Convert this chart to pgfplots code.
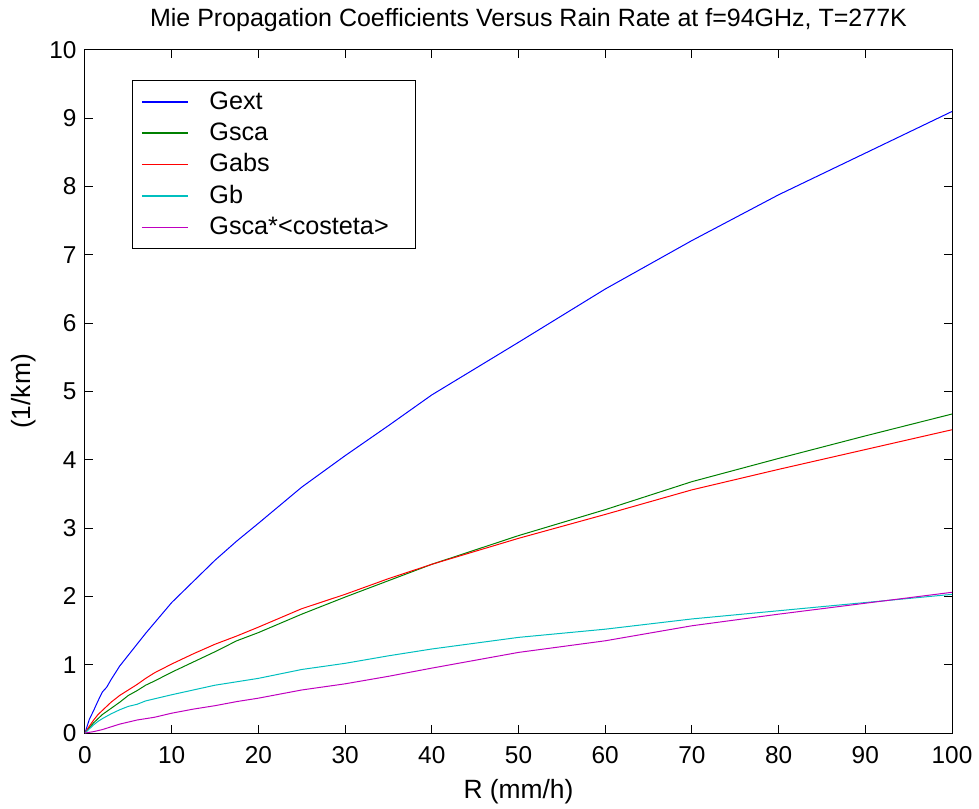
\documentclass[border=0pt]{standalone}
\usepackage{fontspec}
\setmainfont{Liberation Sans}
\usepackage{pgfplots}
\pgfplotsset{compat=1.18}
\definecolor{mblue}{rgb}{0,0,1}
\definecolor{mgreen}{rgb}{0,0.5,0}
\definecolor{mred}{rgb}{1,0,0}
\definecolor{mcyan}{rgb}{0,0.75,0.75}
\definecolor{mmag}{rgb}{0.75,0,0.75}
\begin{document}
\fontsize{12.2}{14.6}\selectfont
\begin{tikzpicture}
\useasboundingbox (-42.5pt,-37.5pt) rectangle (447pt,366.5pt);
\begin{axis}[
  at={(0,0)}, anchor=south west,
  scale only axis, width=433.5pt, height=341.5pt,
  xmin=0, xmax=100, ymin=0, ymax=10,
  xtick={0,10,...,100}, ytick={0,1,...,10},
  tick align=inside, major tick length=4pt,
  tick style={black, line width=0.5pt},
  axis line style={black, line width=0.5pt},
  /pgf/number format/assume math mode=true,
  tick label style={font=\fontsize{12.2}{14.6}\selectfont},
  xticklabel style={anchor=base, yshift=-15pt},
  yticklabel style={anchor=east, xshift=0pt},
  title={Mie Propagation Coefficients Versus Rain Rate at f=94GHz, T=277K},
  every axis title/.style={at={(axis description cs:0.5,1)}, anchor=base, yshift=11.5pt, xshift=5pt,
    font=\fontsize{12.5}{15}\selectfont},
  xlabel={R (mm/h)},
  every axis x label/.style={at={(axis description cs:0.5,0)}, anchor=base, yshift=-32.5pt,
    font=\fontsize{13.2}{15.8}\selectfont},
  ylabel={(1/km)},
  every axis y label/.style={at={(axis description cs:-0.0704,0.5)}, anchor=center, rotate=90,
    font=\fontsize{13.2}{15.8}\selectfont},
  legend style={at={(0.054,0.956)}, anchor=north west, draw=black, fill=white,
    font=\fontsize{12.6}{15}\selectfont, inner xsep=4.5pt, inner ysep=3.5pt,
    row sep=0.85pt, column sep=8.5pt},
  legend cell align=left,
  legend image code/.code={\draw[#1,line width=0.6pt] (0pt,0pt) -- (23pt,0pt);},
]
\addplot[draw=mblue, color=mblue, line width=0.5pt] coordinates {
(0,0) (0.25,0.1) (0.5,0.2) (1,0.33) (1.5,0.47) (2,0.6) (2.5,0.67) (3,0.78) (4,0.98) (5,1.14)
(6,1.3) (7,1.46) (8,1.61) (9,1.76) (10,1.91) (12.5,2.22) (15,2.53) (17.5,2.81) (20,3.07) (25,3.6)
(30,4.06) (35,4.5) (40,4.95) (50,5.72) (60,6.5) (70,7.21) (80,7.88) (90,8.49) (100,9.1)};
\addlegendentry{Gext}
\addplot[draw=mgreen, color=mgreen, line width=0.5pt] coordinates {
(0,0) (0.5,0.08) (1,0.15) (1.5,0.21) (2,0.27) (3,0.36) (4,0.45) (5,0.55) (6,0.62) (7,0.7)
(8,0.76) (10,0.89) (12.5,1.04) (15,1.19) (17.5,1.35) (20,1.47) (25,1.74) (30,1.99) (35,2.23)
(40,2.47) (50,2.89) (60,3.27) (70,3.68) (80,4.02) (90,4.35) (100,4.67)};
\addlegendentry{Gsca}
\addplot[draw=mred, color=mred, line width=0.5pt] coordinates {
(0,0) (0.5,0.1) (1,0.19) (1.5,0.27) (2,0.33) (3,0.45) (4,0.55) (5,0.63) (6,0.71) (7,0.8)
(8,0.88) (10,1.01) (12.5,1.16) (15,1.3) (17.5,1.42) (20,1.55) (25,1.82) (30,2.03) (35,2.26)
(40,2.47) (50,2.85) (60,3.2) (70,3.56) (80,3.86) (90,4.15) (100,4.44)};
\addlegendentry{Gabs}
\addplot[draw=mcyan, color=mcyan, line width=0.5pt] coordinates {
(0,0) (0.5,0.06) (1,0.12) (1.5,0.17) (2,0.21) (3,0.28) (4,0.34) (5,0.39) (6,0.42) (7,0.47)
(8,0.5) (10,0.56) (12.5,0.63) (15,0.7) (17.5,0.75) (20,0.8) (25,0.93) (30,1.02) (35,1.13)
(40,1.23) (50,1.4) (60,1.52) (70,1.67) (80,1.79) (90,1.91) (100,2.03)};
\addlegendentry{Gb}
\addplot[draw=mmag, color=mmag, line width=0.5pt] coordinates {
(0,0) (0.5,0.01) (1,0.02) (2,0.05) (3,0.09) (4,0.13) (5,0.16) (6,0.19) (7,0.21) (8,0.23)
(10,0.29) (12.5,0.35) (15,0.4) (17.5,0.46) (20,0.51) (25,0.63) (30,0.72) (35,0.83)
(40,0.95) (50,1.18) (60,1.35) (70,1.57) (80,1.74) (90,1.9) (100,2.06)};
\addlegendentry{Gsca*<costeta>\rule{7pt}{0pt}}
\end{axis}
\end{tikzpicture}
\end{document}
